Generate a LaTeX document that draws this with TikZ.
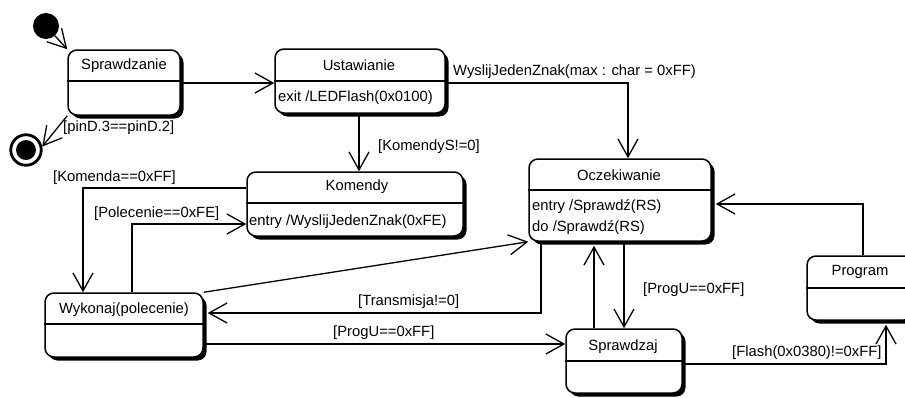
\documentclass[tikz,border=0pt]{standalone}
\usepackage{fontspec}
\setmainfont{Liberation Sans}
\usetikzlibrary{arrows.meta,shadows}
\begin{document}
\begin{tikzpicture}[x=1pt,y=-1pt,
  font=\fontsize{14.8}{17}\selectfont,
  statebox/.style={draw,line width=1.5pt,rounded corners=9pt,fill=white,inner sep=0pt,
    drop shadow={fill=black,opacity=1,shadow xshift=3.5pt,shadow yshift=-3.5pt}},
  divider/.style={line width=1.4pt},
  lbl/.style={inner sep=0pt,anchor=west},
  ttl/.style={inner sep=0pt},
  conn/.style={line width=1.3pt,-{Straight Barb[length=18pt,width=20pt]}},
]
\useasboundingbox (0,0) rectangle (905,397);
\clip (0,0) rectangle (905,397);

% pseudo states
\node[circle,fill=black,minimum size=26pt,inner sep=0pt] (init) at (46,26) {};
\node[circle,draw,line width=2.8pt,minimum size=30.5pt,inner sep=0pt] (fin) at (26,150) {};
\node[circle,fill=black,minimum size=20pt,inner sep=0pt] (fincore) at (26,150) {};

% states
\node[statebox,minimum width=112pt,minimum height=65pt] (spr) at (124,82.5) {};
\draw[divider] (spr.west |- 0,81) -- (spr.east |- 0,81);
\node[ttl] (sprT) at (124,66) {Sprawdzanie};

\node[statebox,minimum width=170pt,minimum height=64pt] (ust) at (360,81) {};
\draw[divider] (ust.west |- 0,81) -- (ust.east |- 0,81);
\node[ttl] (ustT) at (359,65) {Ustawianie};
\node[lbl] (ustB) at (278,98) {exit /LEDFlash(0x0100)};

\node[statebox,minimum width=216pt,minimum height=64pt] (kom) at (355,204) {};
\draw[divider] (kom.west |- 0,203) -- (kom.east |- 0,203);
\node[ttl] (komT) at (357,187) {Komendy};
\node[lbl] (komB) at (249,222) {entry /WyslijJedenZnak(0xFE)};

\node[statebox,minimum width=182pt,minimum height=82pt] (ocz) at (620,200) {};
\draw[divider] (ocz.west |- 0,190) -- (ocz.east |- 0,190);
\node[ttl] (oczT) at (619,175) {Oczekiwanie};
\node[lbl] (oczB1) at (532,207) {entry /Sprawdź(RS)};
\node[lbl] (oczB2) at (532,228) {do /Sprawdź(RS)};

\node[statebox,minimum width=158pt,minimum height=64pt] (wyk) at (124,325) {};
\draw[divider] (wyk.west |- 0,324) -- (wyk.east |- 0,324);
\node[ttl] (wykT) at (124,310) {Wykonaj(polecenie)};

\node[statebox,minimum width=116pt,minimum height=64pt] (spz) at (624,361) {};
\draw[divider] (spz.west |- 0,361) -- (spz.east |- 0,361);
\node[ttl] (spzT) at (623,347) {Sprawdzaj};

\node[statebox,minimum width=106pt,minimum height=64pt] (prg) at (860,288) {};
\draw[divider] (prg.west |- 0,288) -- (prg.east |- 0,288);
\node[ttl] (prgT) at (860,272) {Program};

% transitions
\draw[conn] (init) -- (spr.north west);
\draw[conn] (spr.south west) -- (fin.12);
\node[lbl] (l1) at (63,128) {[pinD.3==pinD.2]};

\draw[conn] (spr.east |- 0,83) -- (ust.west |- 0,83);

\draw[conn] (ust.south -| 359,0) -- (kom.north -| 359,0);
\node[lbl] (l2) at (378,147) {[KomendyS!=0]};

\draw[conn] (ust.east |- 0,83) -| (ocz.north -| 628,0);
\node[lbl] (l3) at (453,72) {WyslijJedenZnak(max : char = 0xFF)};

\draw[conn] (kom.west |- 0,188) -| (wyk.north -| 83,0);
\node[lbl] (l4) at (53,178) {[Komenda==0xFF]};

\draw[conn] (wyk.north -| 132,0) |- (kom.west |- 0,224);
\node[lbl] (l5) at (94,214) {[Polecenie==0xFE]};

\draw[conn] (wyk.north east) -- (ocz.south west);

\draw[conn] (ocz.south -| 541,0) |- ([xshift=4pt]wyk.east |- 0,313);
\node[lbl] (l6) at (358,302) {[Transmisja!=0]};

\draw[conn] (wyk.east |- 0,344) -- (spz.west |- 0,344);
\node[lbl] (l7) at (333,333) {[ProgU==0xFF]};

\draw[conn] (spz.north -| 594,0) -- ([yshift=-4pt]ocz.south -| 594,0);
\draw[conn] (ocz.south -| 624,0) -- (spz.north -| 624,0);
\node[lbl] (l8) at (643,290) {[ProgU==0xFF]};

\draw[conn] (spz.east |- 0,364) -| ([yshift=-4pt]prg.south -| 886,0);
\node[lbl] (l9) at (732,353) {[Flash(0x0380)!=0xFF]};

\draw[conn] (prg.north -| 863,0) |- ([xshift=4pt]ocz.east |- 0,204);
\end{tikzpicture}
\end{document}
